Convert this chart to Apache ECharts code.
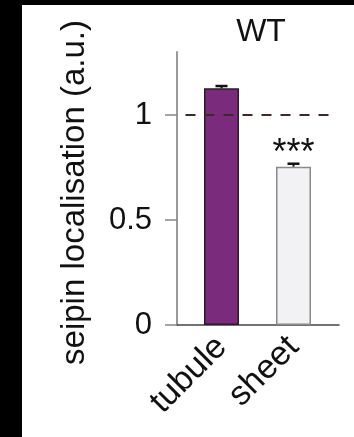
<!DOCTYPE html>
<html><head><meta charset="utf-8">
<script src="https://cdn.jsdelivr.net/npm/echarts@6/dist/echarts.min.js"></script>
<style>html,body{margin:0;padding:0;background:#000;}#c{width:354px;height:437px;}</style>
</head><body><div id="c"></div>
<script>
const categories = ['tubule', 'sheet'];
const values = [1.127, 0.754];
const errors = [0.011, 0.014];
const significance = ['', '***'];
const yTicks = [0, 0.5, 1];
const referenceLevel = 1;
const panelTitle = 'WT';
const yTitle = 'seipin localisation (a.u.)';

const FONT = 'Liberation Sans, Arial, sans-serif';
const fills = ['#7a2b7c', '#f2f1f3'];
const borders = ['#2b1a2b', '#8a8a8a'];

const chart = echarts.init(document.getElementById('c'), null, {renderer: 'canvas'});
const gridTop = 52, gridBottom = 112;
chart.setOption({
  backgroundColor: '#000',
  animation: false,
  graphic: [{type: 'rect', z: -10, shape: {x: 22, y: 5, width: 340, height: 440}, style: {fill: '#fff'}}],
  title: {text: panelTitle, left: 256, top: 11, textAlign: 'center',
    textStyle: {fontFamily: FONT, fontSize: 32, fontWeight: 'normal', color: '#111'}},
  grid: [
    {left: 177, right: 15, top: gridTop, bottom: gridBottom},
    {left: 185.5, width: 144, top: gridTop, bottom: gridBottom}
  ],
  xAxis: [
    {type: 'value', gridIndex: 0, min: 0, max: 1, axisLabel: {show: false}, axisTick: {show: false},
     splitLine: {show: false}, axisLine: {show: true, onZero: false, lineStyle: {color: '#444', width: 1.5}}},
    {type: 'category', gridIndex: 1, data: categories, axisLine: {show: false}, axisTick: {show: false},
     axisLabel: {rotate: 45, margin: 17, fontFamily: FONT, fontSize: 34, color: '#111'}}
  ],
  yAxis: [
    {type: 'value', gridIndex: 0, min: 0, max: 1.3,
     name: yTitle, nameLocation: 'middle', nameGap: 86,
     nameTextStyle: {fontFamily: FONT, fontSize: 33, color: '#111', padding: [0, 8, 0, 0]},
     axisLine: {show: true, lineStyle: {color: '#999', width: 2}},
     axisTick: {show: true, length: 12, customValues: yTicks, lineStyle: {color: '#888', width: 1.5}},
     axisLabel: {customValues: yTicks, margin: 25, fontFamily: FONT, fontSize: 31, color: '#111',
       formatter: v => String(v)},
     splitLine: {show: false}},
    {type: 'value', gridIndex: 1, min: 0, max: 1.3, show: false, splitLine: {show: false}}
  ],
  series: [
    {type: 'bar', xAxisIndex: 1, yAxisIndex: 1, barWidth: 35,
     data: values.map((v, i) => ({value: v, itemStyle: {color: fills[i], borderColor: borders[i], borderWidth: 1.5}})),
     label: {show: true, position: 'top', distance: -5, fontFamily: FONT, fontSize: 36, color: '#111',
       formatter: p => significance[p.dataIndex]},
     markLine: {silent: true, symbol: 'none', label: {show: false},
       lineStyle: {color: '#3a2a2a', type: [10, 9], width: 2},
       data: [{yAxis: referenceLevel}]}
    },
    {type: 'custom', xAxisIndex: 1, yAxisIndex: 1, z: 5,
     data: values.map((v, i) => [i, v, v + errors[i]]),
     renderItem: (params, api) => {
       const lo = api.coord([api.value(0), api.value(1)]);
       const hi = api.coord([api.value(0), api.value(2)]);
       const hw = 6;
       return {type: 'group', children: [
         {type: 'line', shape: {x1: lo[0], y1: lo[1], x2: hi[0], y2: hi[1]}, style: {stroke: '#111', lineWidth: 2}},
         {type: 'line', shape: {x1: hi[0] - hw, y1: hi[1], x2: hi[0] + hw, y2: hi[1]}, style: {stroke: '#111', lineWidth: 2.5}}
       ]};
     }}
  ]
});
</script></body></html>
